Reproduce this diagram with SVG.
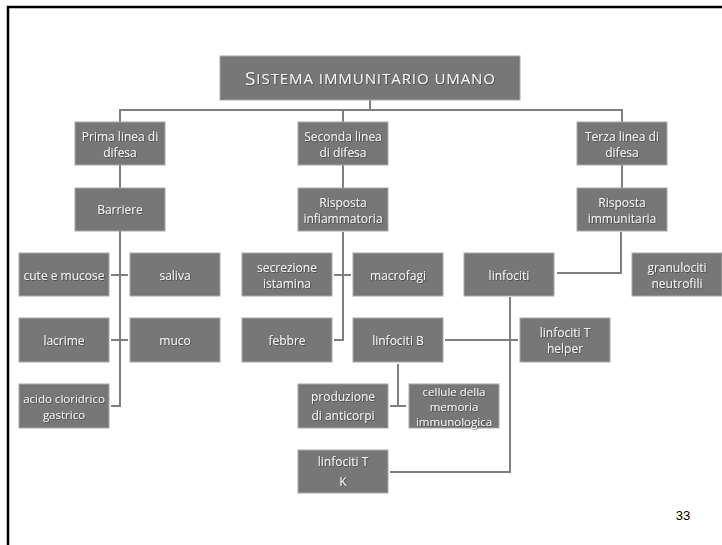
<svg xmlns="http://www.w3.org/2000/svg" width="722" height="545" viewBox="0 0 722 545">
<defs>
<filter id="sh" x="-10%" y="-30%" width="120%" height="160%"><feDropShadow dx="0.8" dy="0.8" stdDeviation="0.5" flood-color="#333333" flood-opacity="0.7"/></filter>
</defs>
<style>
.box{fill:#777777;stroke:#a8a8a8;stroke-width:1}
.t{font-family:"Open Sans","Noto Sans",sans-serif;font-size:12px;fill:#f6f6f6;text-anchor:middle;dominant-baseline:central;filter:url(#sh)}
.c{fill:none;stroke:#7f7f7f;stroke-width:2}
</style>
<rect x="0" y="0" width="722" height="545" fill="#ffffff"/>
<rect x="8" y="7" width="740" height="560" fill="none" stroke="#000" stroke-width="2.5"/>
<g id="connectors" class="c">
<path d="M370 100V110M120 122V110H622V122M343 110V122"/>
<path d="M120 165V188M343 165V188M622 165V188"/>
<path d="M120 231V406H111M111 275H128M111 340H128"/>
<path d="M343 232V340H334M334 275H351"/>
<path d="M621 232V273H557"/>
<path d="M510 297V472H390"/>
<path d="M445 340H518"/>
<path d="M398 364V406M390 406H406"/>
</g>
<g id="title"><rect class="box" x="220" y="56" width="300" height="44"/><text class="t" x="370" y="78" style="font-size:15px" textLength="250" lengthAdjust="spacing"><tspan style="font-size:19px">S</tspan>ISTEMA IMMUNITARIO UMANO</text></g>
<g id="prima"><rect class="box" x="75" y="122" width="90" height="43"/><text class="t" x="120" y="136">Prima linea di</text><text class="t" x="120" y="152">difesa</text></g>
<g id="seconda"><rect class="box" x="298" y="122" width="90" height="43"/><text class="t" x="343" y="136">Seconda linea</text><text class="t" x="343" y="152">di difesa</text></g>
<g id="terza"><rect class="box" x="577" y="122" width="90" height="43"/><text class="t" x="622" y="136">Terza linea di</text><text class="t" x="622" y="152">difesa</text></g>
<g id="barriere"><rect class="box" x="75" y="188" width="90" height="43"/><text class="t" x="120" y="209">Barriere</text></g>
<g id="infiammatoria"><rect class="box" x="298" y="188" width="90" height="43"/><text class="t" x="343" y="202">Risposta</text><text class="t" x="343" y="218">infiammatoria</text></g>
<g id="immunitaria"><rect class="box" x="577" y="188" width="90" height="43"/><text class="t" x="622" y="202">Risposta</text><text class="t" x="622" y="218">immunitaria</text></g>
<g id="cute"><rect class="box" x="19" y="253" width="90" height="43"/><text class="t" x="64" y="275">cute e mucose</text></g>
<g id="saliva"><rect class="box" x="130" y="253" width="90" height="43"/><text class="t" x="175" y="275">saliva</text></g>
<g id="istamina"><rect class="box" x="242" y="253" width="90" height="43"/><text class="t" x="287" y="267">secrezione</text><text class="t" x="287" y="283">istamina</text></g>
<g id="macrofagi"><rect class="box" x="353" y="253" width="90" height="43"/><text class="t" x="398" y="275">macrofagi</text></g>
<g id="linfociti"><rect class="box" x="464" y="253" width="90" height="43"/><text class="t" x="509" y="275">linfociti</text></g>
<g id="granulociti"><rect class="box" x="632" y="253" width="90" height="43"/><text class="t" x="677" y="267">granulociti</text><text class="t" x="677" y="283">neutrofili</text></g>
<g id="lacrime"><rect class="box" x="19" y="318" width="90" height="44"/><text class="t" x="64" y="340">lacrime</text></g>
<g id="muco"><rect class="box" x="130" y="318" width="90" height="44"/><text class="t" x="175" y="340">muco</text></g>
<g id="febbre"><rect class="box" x="242" y="318" width="90" height="44"/><text class="t" x="287" y="340">febbre</text></g>
<g id="linfocitiB"><rect class="box" x="353" y="318" width="90" height="44"/><text class="t" x="398" y="340">linfociti B</text></g>
<g id="helper"><rect class="box" x="520" y="318" width="90" height="44"/><text class="t" x="565" y="332">linfociti T</text><text class="t" x="565" y="348">helper</text></g>
<g id="acido"><rect class="box" x="19" y="384" width="90" height="44"/><text class="t" x="64" y="398" style="font-size:11.5px">acido cloridrico</text><text class="t" x="64" y="414" style="font-size:11.5px">gastrico</text></g>
<g id="anticorpi"><rect class="box" x="298" y="384" width="90" height="44"/><text class="t" x="343" y="396">produzione</text><text class="t" x="343" y="415">di anticorpi</text></g>
<g id="memoria"><rect class="box" x="409" y="384" width="90" height="44"/><text class="t" x="454" y="391" style="font-size:11.5px">cellule della</text><text class="t" x="454" y="406" style="font-size:11.5px">memoria</text><text class="t" x="454" y="421" style="font-size:11.5px">immunologica</text></g>
<g id="linfocitiTK"><rect class="box" x="298" y="450" width="90" height="43"/><text class="t" x="343" y="461">linfociti T</text><text class="t" x="343" y="481">K</text></g>
<text x="683" y="515" style="font-family:'Liberation Sans',Arial,sans-serif;font-size:13px;fill:#000;text-anchor:middle;dominant-baseline:central">33</text>
</svg>
